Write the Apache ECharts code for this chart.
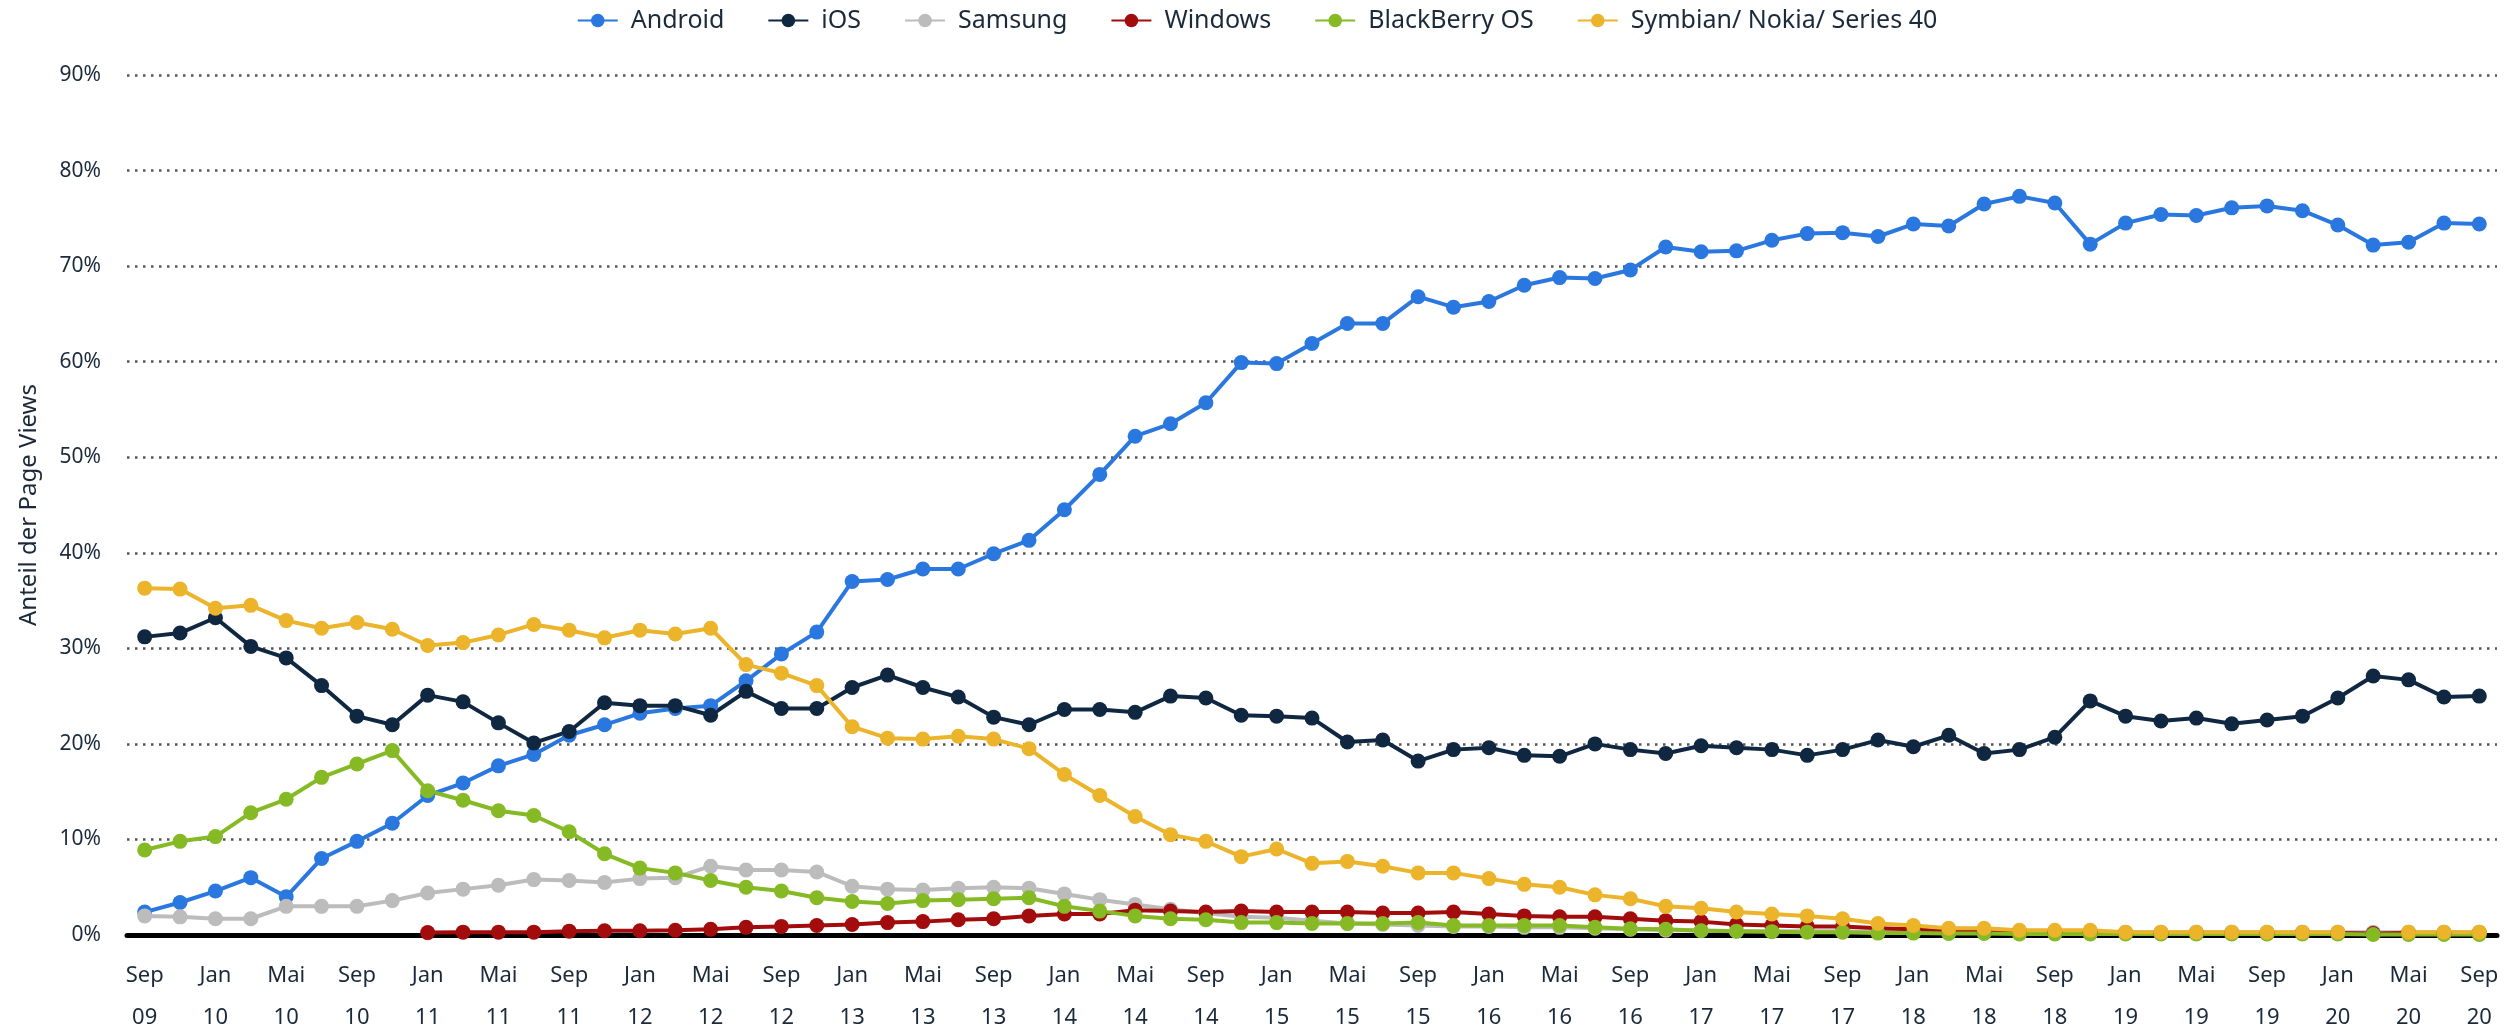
<!DOCTYPE html>
<html lang="de">
<head>
<meta charset="UTF-8">
<title>Smartphone OS Anteil</title>
<script src="https://cdn.jsdelivr.net/npm/echarts@6/dist/echarts.min.js"></script>
<style>
html, body { margin: 0; padding: 0; background: #fff; }
#main { width: 2514px; height: 1026px; }
</style>
</head>
<body>
<div id="main"></div>
<script>
// Kategorien (alle 2 Monate)
var months = [
  'Sep 09', 'Nov 09',
  'Jan 10', 'Mär 10', 'Mai 10', 'Jul 10', 'Sep 10', 'Nov 10',
  'Jan 11', 'Mär 11', 'Mai 11', 'Jul 11', 'Sep 11', 'Nov 11',
  'Jan 12', 'Mär 12', 'Mai 12', 'Jul 12', 'Sep 12', 'Nov 12',
  'Jan 13', 'Mär 13', 'Mai 13', 'Jul 13', 'Sep 13', 'Nov 13',
  'Jan 14', 'Mär 14', 'Mai 14', 'Jul 14', 'Sep 14', 'Nov 14',
  'Jan 15', 'Mär 15', 'Mai 15', 'Jul 15', 'Sep 15', 'Nov 15',
  'Jan 16', 'Mär 16', 'Mai 16', 'Jul 16', 'Sep 16', 'Nov 16',
  'Jan 17', 'Mär 17', 'Mai 17', 'Jul 17', 'Sep 17', 'Nov 17',
  'Jan 18', 'Mär 18', 'Mai 18', 'Jul 18', 'Sep 18', 'Nov 18',
  'Jan 19', 'Mär 19', 'Mai 19', 'Jul 19', 'Sep 19', 'Nov 19',
  'Jan 20', 'Mär 20', 'Mai 20', 'Jul 20', 'Sep 20'
];

var android = [2.4, 3.4, 4.6, 6.0, 4.0, 8.0, 9.8, 11.7, 14.6, 15.9,
  17.7, 18.9, 20.9, 22.0, 23.2, 23.7, 24.0, 26.6, 29.4, 31.7,
  37.0, 37.2, 38.3, 38.3, 39.9, 41.3, 44.5, 48.2, 52.2, 53.5,
  55.7, 59.9, 59.8, 61.9, 64.0, 64.0, 66.8, 65.7, 66.3, 68.0,
  68.8, 68.7, 69.6, 72.0, 71.5, 71.6, 72.7, 73.4, 73.5, 73.1,
  74.4, 74.2, 76.5, 77.3, 76.6, 72.3, 74.5, 75.4, 75.3, 76.1,
  76.3, 75.8, 74.3, 72.2, 72.5, 74.5, 74.4];

var ios = [31.2, 31.6, 33.2, 30.2, 29.0, 26.1, 22.9, 22.0, 25.1, 24.4,
  22.2, 20.1, 21.3, 24.3, 24.0, 24.0, 23.0, 25.5, 23.7, 23.7,
  25.9, 27.2, 25.9, 24.9, 22.8, 22.0, 23.6, 23.6, 23.3, 25.0,
  24.8, 23.0, 22.9, 22.7, 20.2, 20.4, 18.2, 19.4, 19.6, 18.8,
  18.7, 20.0, 19.4, 19.0, 19.8, 19.6, 19.4, 18.8, 19.4, 20.4,
  19.7, 20.9, 19.0, 19.4, 20.7, 24.5, 22.9, 22.4, 22.7, 22.1,
  22.5, 22.9, 24.8, 27.1, 26.7, 24.9, 25.0];

var samsung = [2.0, 1.9, 1.7, 1.7, 3.0, 3.0, 3.0, 3.6, 4.4, 4.8,
  5.2, 5.8, 5.7, 5.5, 5.9, 6.0, 7.2, 6.8, 6.8, 6.6,
  5.1, 4.8, 4.7, 4.9, 5.0, 4.9, 4.3, 3.7, 3.2, 2.7,
  2.3, 1.9, 1.8, 1.5, 1.2, 1.1, 1.0, 0.9, 0.9, 0.8,
  0.8, 0.7, 0.6, 0.5, 0.5, 0.4, 0.4, 0.4, 0.4, 0.3,
  0.3, 0.3, 0.3, 0.3, 0.3, 0.3, 0.3, 0.3, 0.3, 0.3,
  0.3, 0.3, 0.3, 0.3, 0.3, 0.3, 0.3];

var windows = [null, null, null, null, null, null, null, null, 0.25, 0.3,
  0.3, 0.3, 0.4, 0.45, 0.45, 0.5, 0.6, 0.8, 0.9, 1.0,
  1.1, 1.3, 1.4, 1.6, 1.7, 2.0, 2.2, 2.2, 2.6, 2.5,
  2.4, 2.5, 2.4, 2.4, 2.4, 2.3, 2.3, 2.4, 2.2, 2.0,
  1.9, 1.9, 1.7, 1.5, 1.4, 1.1, 1.0, 0.9, 0.9, 0.7,
  0.6, 0.4, 0.3, 0.3, 0.3, 0.25, 0.2, 0.2, 0.2, 0.2,
  0.2, 0.2, 0.2, 0.15, 0.2, 0.2, 0.2];

var blackberry = [8.9, 9.8, 10.3, 12.8, 14.2, 16.5, 17.9, 19.3, 15.1, 14.1,
  13.0, 12.5, 10.8, 8.5, 7.0, 6.5, 5.7, 5.0, 4.6, 3.9,
  3.5, 3.3, 3.6, 3.7, 3.8, 3.9, 3.0, 2.5, 2.0, 1.7,
  1.6, 1.3, 1.3, 1.2, 1.2, 1.2, 1.3, 1.0, 1.0, 1.0,
  1.0, 0.8, 0.65, 0.6, 0.45, 0.4, 0.35, 0.3, 0.3, 0.2,
  0.2, 0.15, 0.15, 0.1, 0.1, 0.1, 0.1, 0.1, 0.1, 0.1,
  0.1, 0.1, 0.1, 0.05, 0.05, 0.05, 0.05];

var symbian = [36.3, 36.2, 34.2, 34.5, 32.9, 32.1, 32.7, 32.0, 30.3, 30.6,
  31.4, 32.5, 31.9, 31.1, 31.9, 31.5, 32.1, 28.3, 27.4, 26.1,
  21.8, 20.6, 20.5, 20.8, 20.5, 19.5, 16.8, 14.6, 12.4, 10.5,
  9.8, 8.2, 9.0, 7.5, 7.7, 7.2, 6.5, 6.5, 5.9, 5.3,
  5.0, 4.2, 3.8, 3.0, 2.8, 2.4, 2.2, 2.0, 1.7, 1.2,
  1.0, 0.7, 0.7, 0.5, 0.5, 0.5, 0.3, 0.3, 0.3, 0.3,
  0.3, 0.3, 0.3, null, 0.3, 0.3, 0.3];

var seriesNames = ['Android', 'iOS', 'Samsung', 'Windows', 'BlackBerry OS', 'Symbian/ Nokia/ Series 40'];
var seriesData = [android, ios, samsung, windows, blackberry, symbian];
var colors = ['#2a78df', '#0f2740', '#bcbcbc', '#a30c0c', '#86ba25', '#ebb42a'];

var textColor = '#1b2a3a';
var fontFamily = '"Noto Sans", "Open Sans", sans-serif';

var myChart = echarts.init(document.getElementById('main'));

var series = [];
for (var i = 0; i < seriesNames.length; i++) {
    series.push({
        name: seriesNames[i],
        type: 'line',
        data: seriesData[i],
        symbol: 'circle',
        symbolSize: 15,
        connectNulls: false,
        lineStyle: { width: 4, color: colors[i] },
        itemStyle: { color: colors[i] },
        emphasis: { disabled: true }
    });
}

var option = {
    animation: false,
    color: colors,
    textStyle: { fontFamily: fontFamily, color: textColor },
    legend: {
        top: 3,
        left: 'center',
        itemWidth: 40,
        itemHeight: 17,
        itemGap: 43,
        textStyle: {
            fontSize: 25, color: textColor, fontFamily: fontFamily,
            padding: [0, 0, 0, 8]
        },
        data: seriesNames
    },
    grid: {
        left: 127,
        right: 17,
        top: 75,
        bottom: 91,
        outerBoundsMode: 'none'
    },
    xAxis: {
        type: 'category',
        data: months,
        boundaryGap: true,
        axisLine: { show: true, lineStyle: { color: '#000', width: 5 } },
        axisTick: { show: false },
        axisLabel: {
            interval: 1,
            margin: 20,
            fontSize: 22,
            lineHeight: 42,
            color: textColor,
            formatter: function (v) { return v.replace(' ', '\n'); }
        },
        splitLine: { show: false }
    },
    yAxis: {
        type: 'value',
        min: 0,
        max: 90,
        interval: 10,
        name: 'Anteil der Page Views',
        nameLocation: 'middle',
        nameGap: 86,
        nameTextStyle: { fontSize: 24, color: textColor },
        axisLine: { show: false },
        axisTick: { show: false },
        axisLabel: {
            margin: 26,
            fontSize: 21,
            color: textColor,
            formatter: '{value}%'
        },
        splitLine: {
            show: true,
            lineStyle: { color: '#555', width: 2.5, type: [2.5, 5.5] }
        }
    },
    series: series
};

myChart.setOption(option);
</script>
</body>
</html>
